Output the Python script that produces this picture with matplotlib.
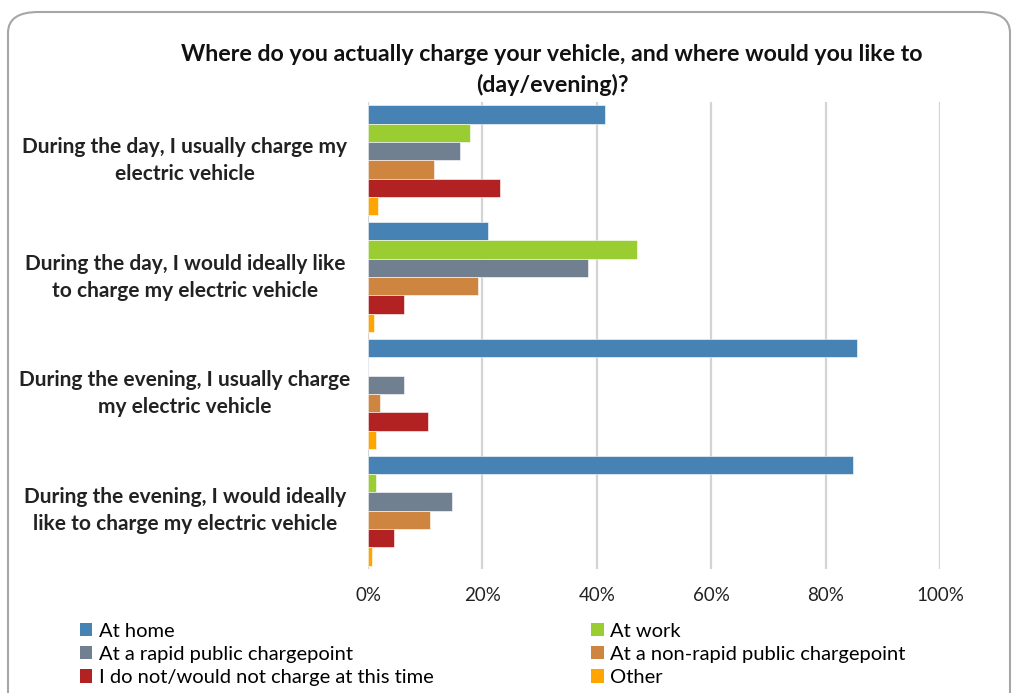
import matplotlib
matplotlib.use("Agg")
import matplotlib.pyplot as plt
import numpy as np
from matplotlib.patches import FancyBboxPatch, Patch

plt.rcParams['font.family'] = ['Lato', 'DejaVu Sans']

categories = [
    "During the day, I usually charge my\nelectric vehicle",
    "During the day, I would ideally like\nto charge my electric vehicle",
    "During the evening, I usually charge\nmy electric vehicle",
    "During the evening, I would ideally\nlike to charge my electric vehicle",
]
series_names = [
    "At home",
    "At work",
    "At a rapid public chargepoint",
    "At a non-rapid public chargepoint",
    "I do not/would not charge at this time",
    "Other",
]
at_home = [41.5, 20.9, 85.5, 84.8]
at_work = [17.8, 47.1, 0.0, 1.4]
rapid_public = [16.0, 38.4, 6.3, 14.6]
nonrapid_public = [11.5, 19.2, 2.1, 10.8]
not_charge = [23.0, 6.3, 10.5, 4.5]
other = [1.7, 1.0, 1.4, 0.7]
x_ticks = [0, 20, 40, 60, 80, 100]
x_tick_labels = ["0%", "20%", "40%", "60%", "80%", "100%"]

colors = ["#4682B4", "#9ACD32", "#708090", "#CD853F", "#B22222", "#FFA500"]
series = [at_home, at_work, rapid_public, nonrapid_public, not_charge, other]

W, H = 1014, 693
fig = plt.figure(figsize=(W / 100, H / 100), dpi=100)

# rounded outer border
fig.patches.append(FancyBboxPatch((8 / W, -0.05), (1010 - 8) / W, (693 - 12) / H + 0.05,
                                  boxstyle="round,pad=0,rounding_size=0.03",
                                  transform=fig.transFigure, fill=False,
                                  edgecolor="#A6A6A6", linewidth=1.5, zorder=0))

ax_left, ax_right = 368 / W, 940 / W
ax_top, ax_bottom = 1 - 102 / H, 1 - 569 / H
ax = fig.add_axes([ax_left, ax_bottom, ax_right - ax_left, ax_top - ax_bottom])

n = len(series)
bar_h = 0.943 / n
y = np.arange(len(categories))
for i, (vals, c) in enumerate(zip(series, colors)):
    offs = -0.943 / 2 + bar_h * (i + 0.5)
    ax.barh(y + offs, vals, height=bar_h, color=c, edgecolor="white",
            linewidth=0.4, label=series_names[i], zorder=3)

ax.set_xlim(0, 100)
ax.set_ylim(len(categories) - 0.5, -0.5)
ax.set_xticks(x_ticks)
ax.set_xticklabels(x_tick_labels, fontsize=13.5, color="#222222")
ax.set_yticks([])
ax.grid(axis="x", color="#D4D4D4", linewidth=1.6, zorder=0)
for s in ax.spines.values():
    s.set_visible(False)
ax.tick_params(axis="x", length=0, pad=13)

for yi, cat in zip(y, categories):
    ax.text(-0.32, yi, cat, transform=ax.get_yaxis_transform(),
            ha="center", va="center", fontsize=15, fontweight="bold",
            color="#222222", linespacing=1.45)

fig.text(552 / W, 1 - 70 / H,
         "Where do you actually charge your vehicle, and where would you like to\n(day/evening)?",
         ha="center", va="center", fontsize=16.7, fontweight="bold", color="#111111",
         linespacing=1.45)

order = [0, 2, 4, 1, 3, 5]
handles = [Patch(facecolor=colors[k], edgecolor="none") for k in order]
labels = [series_names[k] for k in order]
fig.legend(handles, labels, ncol=2, loc="upper left",
           bbox_to_anchor=(80 / W, 1 - 623 / H), frameon=False,
           fontsize=14.5, handlelength=0.62, handleheight=0.62, handletextpad=0.3,
           columnspacing=7.85, labelspacing=0.3, borderaxespad=0, borderpad=0)

fig.savefig("out.png", dpi=100)
